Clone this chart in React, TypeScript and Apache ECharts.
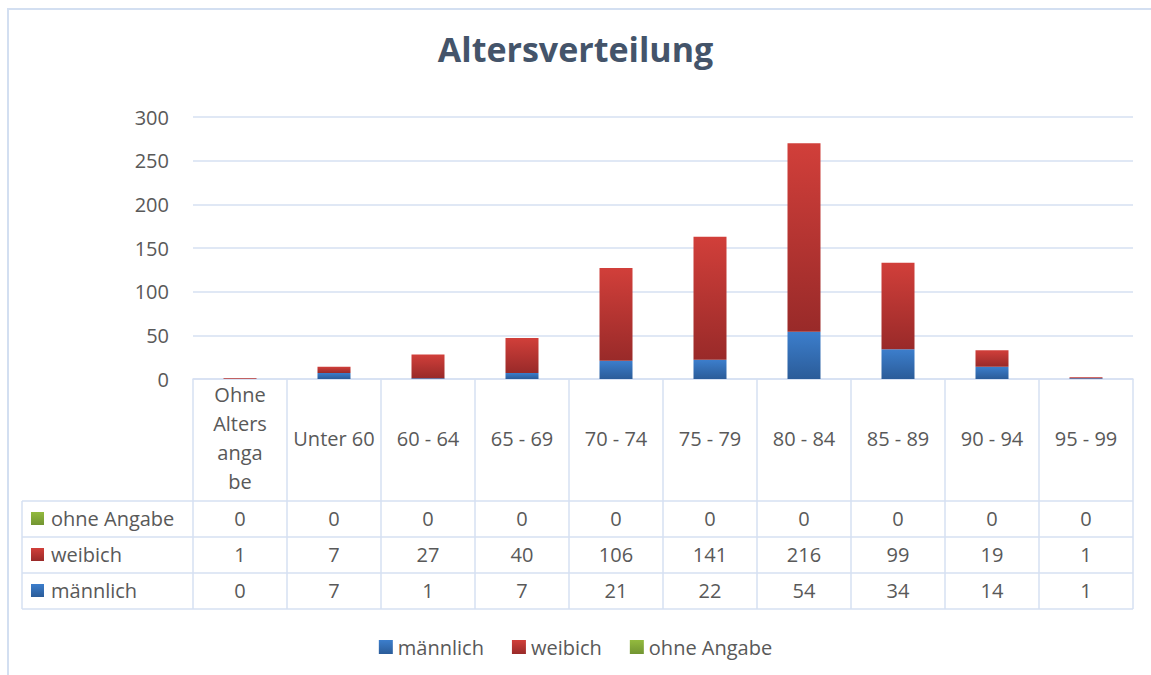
import React, { useEffect, useRef } from "react";
import * as echarts from "echarts";

const categories = ["Ohne Altersangabe", "Unter 60", "60 - 64", "65 - 69", "70 - 74", "75 - 79", "80 - 84", "85 - 89", "90 - 94", "95 - 99"];
const maennlich = [0, 7, 1, 7, 21, 22, 54, 34, 14, 1];
const weibich = [1, 7, 27, 40, 106, 141, 216, 99, 19, 1];
const ohneAngabe = [0, 0, 0, 0, 0, 0, 0, 0, 0, 0];
const seriesNames = ["männlich", "weibich", "ohne Angabe"];
const yTicks = { min: 0, max: 300, interval: 50 };

const FONT = "Open Sans";
const TXT = "#595959";
const LINE = "#D6E0F2";

const grad = (top: string, bottom: string) =>
  new echarts.graphic.LinearGradient(0, 0, 0, 1, [
    { offset: 0, color: top },
    { offset: 1, color: bottom },
  ]);

const blue = () => grad("#3C7ECC", "#2B5C99");
const red = () => grad("#D13F3A", "#992A29");
const green = () => grad("#93BA3E", "#729532");

export default function App() {
  const ref = useRef<HTMLDivElement>(null);
  useEffect(() => {
    const chart = echarts.init(ref.current!, null, { renderer: "svg" });

    const tableRows = [
      { name: seriesNames[2], values: ohneAngabe, color: green(), margin: 139 },
      { name: seriesNames[1], values: weibich, color: red(), margin: 175 },
      { name: seriesNames[0], values: maennlich, color: blue(), margin: 211 },
    ];

    const gridTop = 117;
    const axisY = 379;
    const tableLeft = 22;
    const tableRight = 1133;
    const rowH = 36;
    const headerBottom = 501;

    const graphics: any[] = [
      {
        type: "polyline",
        shape: { points: [[8, 680], [8, 9], [1160, 9]] },
        style: { stroke: "#D3DFF1", lineWidth: 2, fill: null },
        silent: true,
      },
    ];
    for (let i = 0; i <= 3; i++) {
      const y = headerBottom + i * rowH;
      graphics.push({
        type: "line",
        shape: { x1: tableLeft, y1: y, x2: tableRight, y2: y },
        style: { stroke: LINE, lineWidth: 1.5 },
        silent: true,
      });
    }
    graphics.push({
      type: "line",
      shape: { x1: tableLeft, y1: headerBottom, x2: tableLeft, y2: headerBottom + 3 * rowH },
      style: { stroke: LINE, lineWidth: 1.5 },
      silent: true,
    });
    tableRows.forEach((r, i) => {
      const cy = headerBottom + i * rowH + rowH / 2 - 1;
      graphics.push({
        type: "rect",
        shape: { x: 31, y: cy - 6, width: 13, height: 13 },
        style: { fill: r.color },
        silent: true,
      });
      graphics.push({
        type: "text",
        x: 51,
        y: cy,
        style: {
          text: r.name,
          fontSize: 20,
          fontFamily: FONT,
          fill: TXT,
          verticalAlign: "middle",
          align: "left",
        },
        silent: true,
      });
    });

    const valueAxes = tableRows.map((r) => ({
      type: "category",
      data: categories,
      position: "bottom",
      offset: 0,
      axisLine: { show: false },
      axisTick: { show: false },
      splitLine: { show: false },
      axisLabel: {
        interval: 0,
        margin: r.margin,
        verticalAlign: "middle",
        fontSize: 20,
        fontFamily: FONT,
        color: TXT,
        formatter: (_v: string, idx: number) => String(r.values[idx]),
      },
    }));

    const option: any = {
      animation: false,
      backgroundColor: "#ffffff",
      title: {
        text: "Altersverteilung",
        left: "center",
        top: 27,
        textStyle: { fontSize: 34, fontWeight: "bold", fontFamily: FONT, color: "#44546A" },
      },
      legend: {
        data: seriesNames,
        left: "center",
        top: 632,
        icon: "rect",
        itemWidth: 14,
        itemHeight: 14,
        itemGap: 28,
        textStyle: { fontSize: 20, fontFamily: FONT, color: TXT },
      },
      grid: { left: 193, right: 18, top: gridTop, bottom: 675 - axisY, containLabel: false },
      xAxis: [
        {
          type: "category",
          data: categories,
          position: "bottom",
          axisLine: { show: true, lineStyle: { color: LINE, width: 1.5 } },
          axisTick: { show: true, interval: 0, length: 230, lineStyle: { color: LINE, width: 1.5 } },
          axisLabel: {
            interval: 0,
            margin: 59,
            verticalAlign: "middle",
            lineHeight: 29,
            fontSize: 20,
            fontFamily: FONT,
            color: TXT,
            formatter: (v: string) => (v === "Ohne Altersangabe" ? "Ohne\nAlters\nanga\nbe" : v),
          },
        },
        ...valueAxes,
      ],
      yAxis: {
        type: "value",
        min: yTicks.min,
        max: yTicks.max,
        interval: yTicks.interval,
        axisLine: { show: false },
        axisTick: { show: false },
        splitLine: { lineStyle: { color: LINE, width: 1.5 } },
        axisLabel: { fontSize: 20, fontFamily: FONT, color: TXT, margin: 24 },
      },
      series: [
        { name: seriesNames[0], type: "bar", stack: "a", barWidth: 33, data: maennlich, itemStyle: { color: blue() } },
        { name: seriesNames[1], type: "bar", stack: "a", barWidth: 33, data: weibich, itemStyle: { color: red() } },
        { name: seriesNames[2], type: "bar", stack: "a", barWidth: 33, data: ohneAngabe, itemStyle: { color: green() } },
      ],
      graphic: graphics,
    };
    chart.setOption(option);
    return () => chart.dispose();
  }, []);
  return (
    <div
      ref={ref}
      style={{ position: "absolute", left: 0, top: 0, width: 1151, height: 675 }}
    />
  );
}
